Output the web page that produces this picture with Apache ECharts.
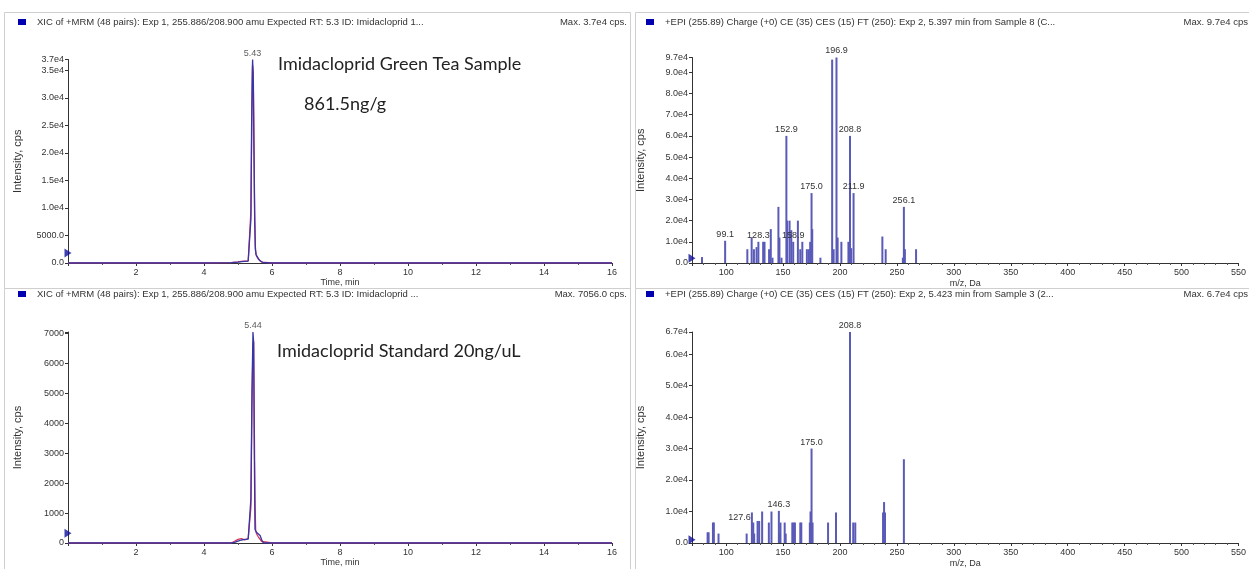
<!DOCTYPE html>
<html>
<head>
<meta charset="utf-8">
<script src="https://cdn.jsdelivr.net/npm/echarts@6/dist/echarts.min.js"></script>
<style>
  html, body { margin: 0; padding: 0; background: #fff; }
  #chart { width: 1249px; height: 569px; }
</style>
</head>
<body>
<div id="chart"></div>
<script>
// XIC chromatograms (time, min / intensity, cps)
const tlTime = [0, 2, 4, 4.8, 5.0, 5.1, 5.2, 5.3, 5.35, 5.38, 5.40, 5.42, 5.43, 5.45, 5.47, 5.49, 5.51, 5.53, 5.56, 5.60, 5.65, 5.70, 5.75, 6, 8, 10, 12, 14, 16]
const tlBlue = [0, 0, 0, 50, 150, 250, 300, 350, 600, 8000, 25000, 35000, 37000, 33000, 20000, 8000, 2500, 1600, 1200, 800, 400, 200, 50, 0, 0, 0, 0, 0, 0]
const tlRed = [0, 0, 0, 80, 200, 300, 350, 400, 700, 9500, 22000, 32000, 36000, 34500, 22000, 9500, 3000, 1500, 1100, 700, 350, 150, 40, 0, 0, 0, 0, 0, 0]
const tlApex = [5.43, 37000]
const tlMarker = [0, 1800]

const blTime = [0, 2, 4, 4.8, 4.9, 5.0, 5.1, 5.2, 5.3, 5.35, 5.38, 5.41, 5.44, 5.46, 5.48, 5.50, 5.52, 5.55, 5.60, 5.65, 5.70, 5.75, 6, 8, 10, 12, 14, 16]
const blBlue = [0, 0, 0, 0, 20, 60, 100, 120, 130, 150, 1500, 5000, 7056, 6700, 3000, 450, 400, 350, 300, 250, 100, 0, 0, 0, 0, 0, 0, 0]
const blRed = [0, 0, 0, 0, 60, 120, 150, 100, 160, 200, 1200, 4500, 6600, 6750, 3900, 1400, 400, 300, 200, 150, 50, 0, 0, 0, 0, 0, 0, 0]
const blApex = [5.44, 7056]
const blMarker = [0, 330]

// EPI spectra (m/z, Da / intensity, cps)
const trMz = [78.8, 99.1, 118.6, 122.4, 124.4, 126.7, 128.3, 132.5, 133.7, 137.7, 139.2, 140.7, 145.9, 146.8, 148.6, 152.9, 153.6, 155.7, 157.2, 158.9, 163.0, 165.1, 166.9, 170.9, 172.6, 173.8, 175.0, 175.6, 182.8, 193.1, 194.4, 196.9, 197.9, 201.2, 207.4, 208.8, 209.8, 211.9, 237.2, 240.1, 255.2, 256.1, 257.0, 266.8]
const trInt = [2800, 10500, 6500, 12000, 6500, 7500, 10000, 10000, 10000, 6500, 16000, 2500, 26500, 12000, 2500, 60000, 20000, 20000, 15500, 10000, 20000, 6500, 10000, 6500, 6500, 10000, 33000, 16000, 2500, 96000, 6500, 97000, 12000, 10000, 10000, 60000, 7000, 33000, 12500, 6500, 2500, 26500, 6500, 6500]
const trLabels = [99.1, 128.3, 152.9, 158.9, 175.0, 196.9, 208.8, 211.9, 256.1]
const trMarker = [70, 2200]

const brMz = [83.7, 84.6, 88.4, 89.2, 93.3, 118.0, 122.6, 123.8, 124.6, 127.6, 129.0, 131.6, 137.5, 139.8, 146.3, 146.9, 147.7, 151.4, 152.3, 158.1, 159.3, 160.4, 165.1, 166.0, 173.5, 174.1, 175.0, 175.9, 189.5, 196.5, 208.8, 211.6, 213.4, 237.8, 238.7, 239.5, 256.1]
const brInt = [3400, 3400, 6500, 6500, 3000, 3000, 9700, 6500, 3000, 7000, 7000, 10000, 6500, 10000, 10200, 3000, 6500, 6500, 3000, 6500, 6500, 6500, 6500, 6500, 6500, 10000, 30000, 6500, 6500, 9700, 67000, 6500, 6500, 9700, 13000, 9700, 26600]
const brLabels = [127.6, 146.3, 175.0, 208.8]
const brMarker = [70, 1000]

const FONT = 'Liberation Sans'
const TXT = '#333'
const BLUE = '#3535a8'
const RED = '#d8345a'
const BAR = '#5a5ab8'

// 0.0 / 5000.0 / 1.0e4 style labels
function sciLabel (v) {
  if (v === 0) return '0.0'
  if (v < 10000) return v.toFixed(1)
  return (v / 10000).toFixed(1) + 'e4'
}

function pairs (xs, ys) {
  return xs.map((x, i) => [x, ys[i]])
}

function spectrumData (mz, inten, labels, shifts) {
  return mz.map((m, i) => {
    const item = { value: [m, inten[i]] }
    if (labels.indexOf(m) >= 0) {
      item.label = {
        show: true,
        position: 'top',
        distance: 2,
        formatter: m.toFixed(1),
        offset: (shifts && shifts[m]) || [0, 0]
      }
    }
    return item
  })
}

function xAxisTime (grid) {
  return {
    type: 'value',
    gridIndex: grid,
    min: 0,
    max: 16,
    interval: 2,
    name: 'Time, min',
    nameLocation: 'middle',
    nameGap: 15,
    nameTextStyle: { fontFamily: FONT, fontSize: 9, color: TXT },
    splitLine: { show: false },
    axisLine: { lineStyle: { color: '#333', width: 1 } },
    axisTick: { length: 3, lineStyle: { color: '#333' } },
    minorTick: { show: true, splitNumber: 2, length: 2, lineStyle: { color: '#555' } },
    axisLabel: {
      fontFamily: FONT, fontSize: 9, color: TXT, margin: 5,
      formatter: v => (v === 0 ? '' : String(v))
    }
  }
}

function xAxisMz (grid) {
  return {
    type: 'value',
    gridIndex: grid,
    min: 70,
    max: 550,
    splitNumber: 10,
    name: 'm/z, Da',
    nameLocation: 'middle',
    nameGap: 16,
    nameTextStyle: { fontFamily: FONT, fontSize: 9, color: TXT },
    splitLine: { show: false },
    axisLine: { lineStyle: { color: '#333', width: 1 } },
    axisTick: { length: 3, lineStyle: { color: '#333' } },
    minorTick: { show: true, splitNumber: 5, length: 2, lineStyle: { color: '#555' } },
    axisLabel: {
      fontFamily: FONT, fontSize: 9, color: TXT, margin: 5,
      formatter: v => (v % 50 === 0 ? String(v) : '')
    }
  }
}

function yAxis (grid, max, interval, fmt, gap) {
  return {
    type: 'value',
    gridIndex: grid,
    min: 0,
    max: max,
    interval: interval,
    name: 'Intensity, cps',
    nameLocation: 'middle',
    nameGap: gap,
    nameTextStyle: { fontFamily: FONT, fontSize: 11, color: TXT },
    splitLine: { show: false },
    axisLine: { show: true, lineStyle: { color: '#333', width: 1 } },
    axisTick: { show: true, length: 3, lineStyle: { color: '#333' } },
    axisLabel: { fontFamily: FONT, fontSize: 9, color: TXT, margin: 4, formatter: fmt }
  }
}

function lineSeries (grid, data, color, z) {
  return {
    type: 'line',
    xAxisIndex: grid,
    yAxisIndex: grid,
    data: data,
    showSymbol: false,
    symbol: 'none',
    z: z,
    lineStyle: { color: color, width: 1.3 },
    animation: false
  }
}

function apexSeries (grid, apex) {
  return {
    type: 'scatter',
    xAxisIndex: grid,
    yAxisIndex: grid,
    data: [apex],
    symbol: 'rect',
    symbolSize: 1,
    itemStyle: { color: 'rgba(0,0,0,0)' },
    label: {
      show: true,
      position: 'top',
      distance: 1,
      formatter: apex[0].toFixed(2),
      fontFamily: FONT,
      fontSize: 9,
      color: TXT
    },
    clip: false,
    z: 5
  }
}

function markerSeries (grid, pt) {
  return {
    type: 'scatter',
    xAxisIndex: grid,
    yAxisIndex: grid,
    data: [pt],
    symbol: 'triangle',
    symbolSize: [9, 7],
    symbolRotate: -90,
    itemStyle: { color: '#10109a' },
    clip: false,
    z: 6
  }
}

function barSeries (grid, data) {
  return {
    type: 'bar',
    xAxisIndex: grid,
    yAxisIndex: grid,
    data: data,
    barWidth: 2,
    itemStyle: { color: BAR },
    label: { fontFamily: FONT, fontSize: 9, color: TXT },
    animation: false
  }
}

function header (x, y, right, text, max) {
  const font = '9.5px "' + FONT + '"'
  return [
    { type: 'rect', shape: { x: x, y: y - 3, width: 8, height: 6 }, style: { fill: '#0000b0' } },
    { type: 'text', style: { text: text, x: x + 19, y: y, font: font, fill: TXT, verticalAlign: 'middle' } },
    { type: 'text', style: { text: max, x: right, y: y, font: font, fill: TXT, align: 'right', verticalAlign: 'middle' } }
  ]
}

function frame (x, y, w, h) {
  return { type: 'rect', shape: { x: x, y: y, width: w, height: h }, style: { fill: 'none', stroke: '#cfcfcf', lineWidth: 1 } }
}

function note (text, x, y) {
  return { type: 'text', style: { text: text, x: x, y: y, font: '18px Lato', fill: '#222', verticalAlign: 'middle' } }
}

const chart = echarts.init(document.getElementById('chart'), null, { renderer: 'canvas' })

const option = {
  backgroundColor: '#fff',
  animation: false,
  grid: [
    { left: 68, right: 637, top: 59.5, bottom: 306 },
    { left: 692, right: 7, top: 57.5, bottom: 306 },
    { left: 68, right: 637, top: 332, bottom: 26 },
    { left: 692, right: 7, top: 332, bottom: 26 }
  ],
  xAxis: [xAxisTime(0), xAxisMz(1), xAxisTime(2), xAxisMz(3)],
  yAxis: [
    yAxis(0, 37000, 5000, sciLabel, 45),
    yAxis(1, 97000, 10000, sciLabel, 46),
    yAxis(2, 7056, 1000, v => (v % 1000 === 0 ? String(v) : ''), 45),
    yAxis(3, 67000, 10000, sciLabel, 46)
  ],
  series: [
    lineSeries(0, pairs(tlTime, tlRed), RED, 2),
    lineSeries(0, pairs(tlTime, tlBlue), BLUE, 3),
    apexSeries(0, tlApex),
    markerSeries(0, tlMarker),
    barSeries(1, spectrumData(trMz, trInt, trLabels)),
    markerSeries(1, trMarker),
    lineSeries(2, pairs(blTime, blRed), RED, 2),
    lineSeries(2, pairs(blTime, blBlue), BLUE, 3),
    apexSeries(2, blApex),
    markerSeries(2, blMarker),
    barSeries(3, spectrumData(brMz, brInt, brLabels, { 127.6: [-18, 3] })),
    markerSeries(3, brMarker)
  ],
  graphic: [
    frame(4.5, 12.5, 626, 276),
    frame(635.5, 12.5, 620, 276),
    frame(4.5, 288.5, 626, 290),
    frame(635.5, 288.5, 620, 290)
  ].concat(
    header(18, 22, 627, 'XIC of +MRM (48 pairs): Exp 1, 255.886/208.900 amu Expected RT: 5.3 ID: Imidacloprid 1...', 'Max. 3.7e4 cps.'),
    header(646, 22, 1248, '+EPI (255.89) Charge (+0) CE (35) CES (15) FT (250): Exp 2, 5.397 min from Sample 8 (C...', 'Max. 9.7e4 cps'),
    header(18, 294, 627, 'XIC of +MRM (48 pairs): Exp 1, 255.886/208.900 amu Expected RT: 5.3 ID: Imidacloprid ...', 'Max. 7056.0 cps.'),
    header(646, 294, 1248, '+EPI (255.89) Charge (+0) CE (35) CES (15) FT (250): Exp 2, 5.423 min from Sample 3 (2...', 'Max. 6.7e4 cps'),
    [
      note('Imidacloprid Green Tea Sample', 278, 64),
      note('861.5ng/g', 304, 104),
      note('Imidacloprid Standard 20ng/uL', 277, 351)
    ]
  )
}

chart.setOption(option)
</script>
</body>
</html>
